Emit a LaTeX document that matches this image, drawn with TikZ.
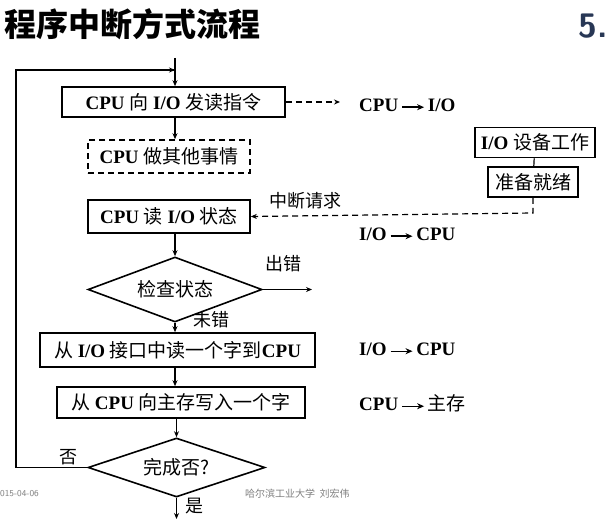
\documentclass[tikz,border=0pt]{standalone}
\usepackage{fontspec}
\setmainfont{Liberation Serif}
\newfontfamily\cjk{Noto Sans CJK SC}
\usetikzlibrary{shapes.geometric,arrows.meta}
\newcommand{\myarr}{\,\tikz[baseline=-4pt]\draw[line width=1.4pt,-{Stealth[length=7pt,width=6pt]}] (0,0)--(22pt,0);\,}
\newcommand{\cj}[1]{{\cjk\mdseries #1}}
\begin{document}
\begin{tikzpicture}[x=1pt,y=-1pt,
  box/.style={draw,line width=1.6pt,minimum height=30pt,inner sep=0pt,font=\fontsize{19}{20}\selectfont\bfseries},
  dbox/.style={box,dashed,dash pattern=on 6pt off 4pt},
  dia/.style={draw,line width=1.6pt,diamond,aspect=2.7,inner sep=0pt,font=\fontsize{19}{20}\selectfont\cjk},
  lbl/.style={font=\fontsize{19}{20}\selectfont\bfseries,inner sep=1pt},
  cl/.style={font=\fontsize{18}{20}\selectfont\cjk,inner sep=1pt},
  arr/.style={line width=1.2pt,-{Stealth[length=6pt,width=5pt]}},
  dar/.style={arr,dash pattern=on 6pt off 4pt}]
\useasboundingbox (0,0) rectangle (608,519);
\fill[white] (0,0) rectangle (608,519);
\node[anchor=west,font=\fontsize{32}{36}\selectfont\cjk\bfseries,inner sep=0] (title) at (4,24) {程序中断方式流程};
\node[anchor=east,font=\fontsize{34}{36}\selectfont\sffamily\bfseries,text={rgb,255:red,40;green,55;blue,85},inner sep=0] (five) at (608,26) {5.};
\node[box,minimum width=223pt] (b1) at (173.5,102) {CPU \cj{向} I/O \cj{发读指令}};
\node[dbox,minimum width=162pt,minimum height=33pt] (b2) at (169,156.5) {CPU \cj{做其他事情}};
\node[box,minimum width=120pt] (io) at (535,142.5) {I/O \cj{设备工作}};
\node[box,minimum width=90pt] (rdy) at (533,182) {\cj{准备就绪}};
\node[box,minimum width=162pt,minimum height=33pt] (b3) at (169,216.5) {CPU \cj{读} I/O \cj{状态}};
\node[dia,minimum width=174pt,minimum height=65pt] (d1) at (175,289.5) {检查状态};
\node[box,minimum width=275pt,minimum height=34pt] (b4) at (177.5,350) {\cj{从} I/O \cj{接口中读一个字到}CPU};
\node[box,minimum width=248pt,minimum height=31pt] (b5) at (181,402.5) {\cj{从} CPU \cj{向主存写入一个字}};
\node[dia,minimum width=177pt,minimum height=59pt] (d2) at (176.5,467.5) {完成否?};
\coordinate (top) at (175,58);
\coordinate (c1) at (16,467.5);
\coordinate (c2) at (16,70);
\coordinate (c3) at (175,70);
\coordinate (t1) at (340,102);
\coordinate (rd) at (533,213);
\coordinate (e1) at (312,289.5);
\coordinate (bot) at (176.5,519);
\draw[line width=1.2pt] (top) -- (c3);
\draw[arr] (c3) -- (b1.north -| c3);
\draw[line width=1.6pt] (d2.west) -- (c1) -- (c2) -- (c3);
\draw[arr] (c2) -- (c3);
\draw[dar] (b1.east) -- (t1);
\node[lbl,anchor=west] (l1) at (358,105) {CPU\myarr I/O};
\draw[arr] (b1.south -| c3) -- (b2.north -| c3);
\draw[line width=1.2pt] (io) -- (rdy);
\draw[dar] (rdy.south) -- (rd) -- (b3.east);
\node[cl,anchor=west] (l2) at (268,201) {中断请求};
\node[lbl,anchor=west] (l3) at (358,234) {I/O\myarr CPU};
\draw[arr] (b3.south -| d1) -- (d1.north);
\draw[arr] (d1.east) -- (e1);
\node[cl,anchor=west] (l4) at (264,264) {出错};
\node[cl,anchor=west] (l5) at (192,320) {未错};
\draw[arr] (d1.south) -- (b4.north -| d1);
\node[lbl,anchor=west] (l6) at (358,349) {I/O\myarr CPU};
\draw[arr] (b4.south -| d1) -- (b5.north -| d1);
\node[lbl,anchor=west] (l7) at (358,403) {CPU\myarr \cj{主存}};
\draw[arr] (b5.south -| d2) -- (d2.north);
\draw[arr] (d2.south) -- (bot);
\node[cl,anchor=west] (l8) at (58,457) {否};
\node[cl,anchor=west] (l9) at (184,506) {是};
\node[anchor=west,font=\fontsize{9}{10}\selectfont\sffamily,text=gray,inner sep=0] (f1) at (0,494) {015-04-06};
\node[anchor=west,font=\fontsize{10}{11}\selectfont\cjk,text=gray,inner sep=0] (f2) at (245,494) {哈尔滨工业大学\ \ 刘宏伟};
\end{tikzpicture}
\end{document}
